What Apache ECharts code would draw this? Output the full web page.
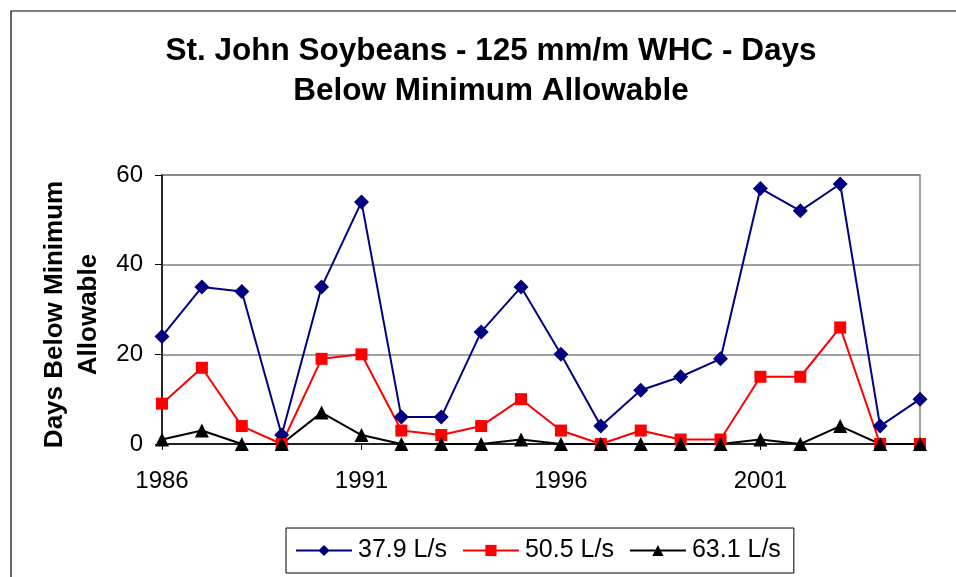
<!DOCTYPE html>
<html>
<head>
<meta charset="utf-8">
<script src="https://cdn.jsdelivr.net/npm/echarts@6/dist/echarts.min.js"></script>
<style>
  html, body { margin: 0; padding: 0; background: #fff; }
  #chart { width: 956px; height: 577px; }
</style>
</head>
<body>
<div id="chart"></div>
<script>
// data
const years = ['1986', '1987', '1988', '1989', '1990', '1991', '1992', '1993', '1994', '1995',
  '1996', '1997', '1998', '1999', '2000', '2001', '2002', '2003', '2004', '2005']
const flow379 = [24, 35, 34, 2, 35, 54, 6, 6, 25, 35, 20, 4, 12, 15, 19, 57, 52, 58, 4, 10]
const flow505 = [9, 17, 4, 0, 19, 20, 3, 2, 4, 10, 3, 0, 3, 1, 1, 15, 15, 26, 0, 0]
const flow631 = [1, 3, 0, 0, 7, 2, 0, 0, 0, 1, 0, 0, 0, 0, 0, 1, 0, 4, 0, 0]
const seriesNames = ['37.9 L/s', '50.5 L/s', '63.1 L/s']
const yTicks = { min: 0, max: 60, interval: 20 }

const font = '"Liberation Sans", Arial, sans-serif'

const chart = echarts.init(document.getElementById('chart'))

const lineSeries = (name, data, color, symbol, size) => ({
  name,
  type: 'line',
  data,
  symbol,
  symbolSize: size,
  showSymbol: true,
  lineStyle: { color, width: 2 },
  itemStyle: { color },
  emphasis: { disabled: true },
  animation: false
})

const options = {
  animation: false,
  textStyle: { fontFamily: font },
  title: {
    text: 'St. John Soybeans - 125 mm/m WHC - Days\nBelow Minimum Allowable',
    left: 491,
    top: 31,
    padding: 0,
    textAlign: 'center',
    textStyle: { fontFamily: font, fontSize: 31.5, fontWeight: 'bold', color: '#000', lineHeight: 40 }
  },
  graphic: [{
    type: 'rect',
    shape: { x: 11, y: 11, width: 1000, height: 1000 },
    style: { fill: 'none', stroke: '#000', lineWidth: 1.2 },
    silent: true
  }],
  grid: {
    left: 162, right: 36, top: 175, bottom: 133,
    show: true, borderColor: '#808080', borderWidth: 1.5
  },
  legend: {
    left: 286,
    top: 528,
    data: seriesNames,
    itemWidth: 56,
    itemHeight: 14,
    itemGap: 15,
    padding: [10, 13, 10, 9],
    borderColor: '#000',
    borderWidth: 1,
    textStyle: { fontFamily: font, fontSize: 25, color: '#000', padding: [0, 0, 0, 1] }
  },
  xAxis: {
    type: 'category',
    data: years,
    boundaryGap: false,
    axisLine: { lineStyle: { color: '#000', width: 1.5 } },
    axisTick: { show: true, interval: 4, length: 6, lineStyle: { color: '#000' } },
    axisLabel: { interval: 4, margin: 25, fontSize: 24, color: '#000', fontFamily: font },
    splitLine: { show: false }
  },
  yAxis: {
    type: 'value',
    min: yTicks.min,
    max: yTicks.max,
    interval: yTicks.interval,
    name: 'Days Below Minimum\nAllowable',
    nameLocation: 'middle',
    nameRotate: 90,
    nameGap: 56,
    nameTextStyle: {
      fontFamily: font, fontSize: 26, fontWeight: 'bold', color: '#000', lineHeight: 34,
      padding: [0, 10, 0, 0]
    },
    axisLine: { show: true, lineStyle: { color: '#000', width: 1.5 } },
    axisTick: { show: true, length: 7, lineStyle: { color: '#000' } },
    axisLabel: { margin: 19, fontSize: 24, color: '#000', fontFamily: font },
    splitLine: { lineStyle: { color: '#808080', width: 1.5 } }
  },
  series: [
    lineSeries(seriesNames[0], flow379, '#000080', 'diamond', 15),
    lineSeries(seriesNames[1], flow505, '#ff0000', 'rect', 12),
    lineSeries(seriesNames[2], flow631, '#000000', 'triangle', 14)
  ]
}

chart.setOption(options, true)
</script>
</body>
</html>
